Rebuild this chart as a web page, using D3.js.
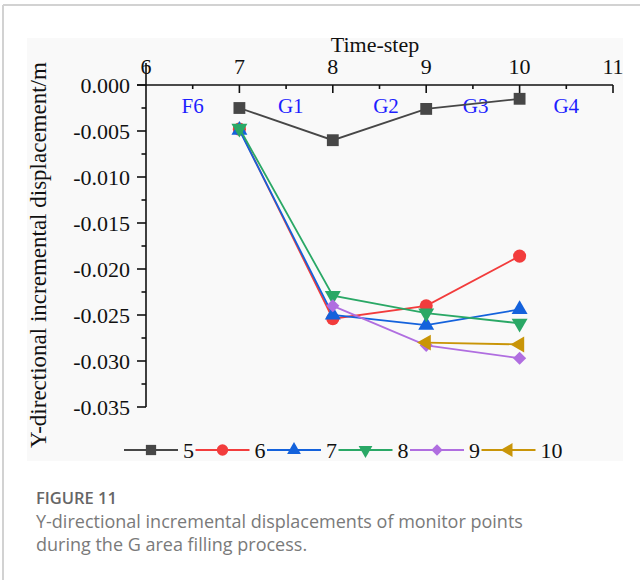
<!DOCTYPE html>
<html><head><meta charset="utf-8">
<script src="https://cdn.jsdelivr.net/npm/d3@7"></script>
<style>body{margin:0;background:#fff}</style></head>
<body><svg id="c" width="640" height="580"></svg>
<script>
// ---- data ----
const timeSteps = [7, 8, 9, 10];
const seriesNames = ["5", "6", "7", "8", "9", "10"];
const s5  = [-0.0025, -0.0060, -0.0026, -0.0015];
const s6  = [-0.0048, -0.0254, -0.0240, -0.0186];
const s7  = [-0.0049, -0.0250, -0.0261, -0.0244];
const s8  = [-0.0047, -0.0229, -0.0248, -0.0259];
const s9  = [null, -0.0240, -0.0283, -0.0297];
const s10 = [null, null, -0.0280, -0.0282];
const xTicks = [6, 7, 8, 9, 10, 11];
const yTicks = [0, -0.005, -0.010, -0.015, -0.020, -0.025, -0.030, -0.035];
const regionLabels = ["F6", "G1", "G2", "G3", "G4"];
const regionPos = [6.5, 7.55, 8.57, 9.53, 10.5];
const xTitle = "Time-step";
const yTitle = "Y-directional incremental displacement/m";
const figLabel = "FIGURE 11";
const captionLines = ["Y-directional incremental displacements of monitor points",
                      "during the G area filling process."];

// ---- styles ----
const allSeries = [s5, s6, s7, s8, s9, s10];
const colors = ["#474747", "#f23c3c", "#1462dc", "#2aa866", "#b06ee0", "#c99508"];
const symbols = [d3.symbolSquare, d3.symbolCircle, d3.symbolTriangle, d3.symbolTriangle, d3.symbolDiamond2, d3.symbolTriangle];
const rotations = [0, 0, 0, 180, 0, -90];
const sizes = [140, 135, 110, 110, 110, 110];
const serif = "'Liberation Serif','Times New Roman',serif";

const svg = d3.select("#c");
// frame
svg.append("rect").attr("x", 0).attr("y", 0).attr("width", 640).attr("height", 580).attr("fill", "#fff");
svg.append("line").attr("x1", 3).attr("x2", 640).attr("y1", 5).attr("y2", 5).attr("stroke", "#d2d2d2").attr("stroke-width", 2);
svg.append("line").attr("x1", 3).attr("x2", 3).attr("y1", 5).attr("y2", 580).attr("stroke", "#d2d2d2").attr("stroke-width", 2);
// chart background
svg.append("rect").attr("x", 27).attr("y", 38).attr("width", 596).attr("height", 423).attr("fill", "#f9f9f9");

const x = d3.scaleLinear().domain([6, 11]).range([146, 613]);
const y = d3.scaleLinear().domain([0, -0.035]).range([85, 407]);

const ax = svg.append("g").attr("stroke", "#111").attr("stroke-width", 1.6);
ax.append("line").attr("x1", x(6)).attr("x2", x(6)).attr("y1", 63).attr("y2", y(-0.035));
ax.append("line").attr("x1", x(6) - 9).attr("x2", x(11)).attr("y1", y(0)).attr("y2", y(0));
ax.selectAll(".xt").data(xTicks.slice(1)).enter().append("line")
  .attr("x1", d => x(d)).attr("x2", d => x(d)).attr("y1", y(0)).attr("y2", y(0) + 8);
ax.selectAll(".xm").data(d3.range(6.5, 11, 1)).enter().append("line")
  .attr("x1", d => x(d)).attr("x2", d => x(d)).attr("y1", y(0)).attr("y2", y(0) + 4);
ax.selectAll(".yt").data(yTicks).enter().append("line")
  .attr("x1", x(6) - 9).attr("x2", x(6)).attr("y1", d => y(d)).attr("y2", d => y(d));
ax.selectAll(".ym").data(d3.range(0, 7).map(i => -0.0025 - i * 0.005)).enter().append("line")
  .attr("x1", x(6) - 4.5).attr("x2", x(6)).attr("y1", d => y(d)).attr("y2", d => y(d));

// tick labels
svg.selectAll(".xl").data(xTicks).enter().append("text")
  .attr("x", d => x(d)).attr("y", 74).attr("text-anchor", "middle")
  .attr("font-family", serif).attr("font-size", 22).attr("fill", "#111").text(d => d);
svg.selectAll(".yl").data(yTicks).enter().append("text")
  .attr("x", 130).attr("y", d => y(d) + 7.5).attr("text-anchor", "end")
  .attr("font-family", serif).attr("font-size", 22).attr("fill", "#111").text(d => d3.format(".3f")(d).replace("−", "-"));

// titles
svg.append("text").attr("x", 375).attr("y", 52).attr("text-anchor", "middle")
  .attr("font-family", serif).attr("font-size", 22).attr("fill", "#111").text(xTitle);
svg.append("text").attr("transform", "translate(46,255) rotate(-90)").attr("text-anchor", "middle")
  .attr("font-family", serif).attr("font-size", 23).attr("fill", "#111").text(yTitle);

// region labels
svg.selectAll(".rl").data(regionLabels).enter().append("text")
  .attr("x", (d, i) => x(regionPos[i])).attr("y", y(0) + 28).attr("text-anchor", "middle")
  .attr("font-family", serif).attr("font-size", 21).attr("fill", "#1e1eff").text(d => d);

// series
allSeries.forEach((vals, si) => {
  const pts = timeSteps.map((t, i) => ({t, v: vals[i]})).filter(p => p.v !== null);
  const g = svg.append("g");
  g.append("path").datum(pts)
    .attr("d", d3.line().x(p => x(p.t)).y(p => y(p.v)))
    .attr("fill", "none").attr("stroke", colors[si]).attr("stroke-width", 1.8);
  g.selectAll("path.m").data(pts).enter().append("path").attr("class", "m")
    .attr("d", d3.symbol().type(symbols[si]).size(sizes[si]))
    .attr("transform", p => `translate(${x(p.t)},${y(p.v)}) rotate(${rotations[si]})`)
    .attr("fill", colors[si]);
});

// legend
const lg = svg.append("g");
seriesNames.forEach((name, i) => {
  const x0 = 124 + i * 71.5, yy = 450;
  lg.append("line").attr("x1", x0).attr("x2", x0 + 54).attr("y1", yy).attr("y2", yy)
    .attr("stroke", colors[i]).attr("stroke-width", 1.8);
  lg.append("path").attr("d", d3.symbol().type(symbols[i]).size(sizes[i] * 0.75))
    .attr("transform", `translate(${x0 + 27},${yy}) rotate(${rotations[i]})`).attr("fill", colors[i]);
  lg.append("text").attr("x", x0 + 59).attr("y", yy + 7.5).attr("font-family", serif)
    .attr("font-size", 22).attr("fill", "#111").text(name);
});

// caption
const sans = "'Open Sans','Noto Sans',sans-serif";
svg.append("text").attr("x", 36).attr("y", 504).attr("font-family", sans).attr("font-size", 16.5)
  .attr("font-weight", 600).attr("fill", "#666").text(figLabel);
captionLines.forEach((l, i) => {
  svg.append("text").attr("x", 36).attr("y", 528 + i * 23).attr("font-family", sans).attr("font-size", 18)
    .attr("fill", "#7a7a7a").text(l);
});
</script></body></html>
